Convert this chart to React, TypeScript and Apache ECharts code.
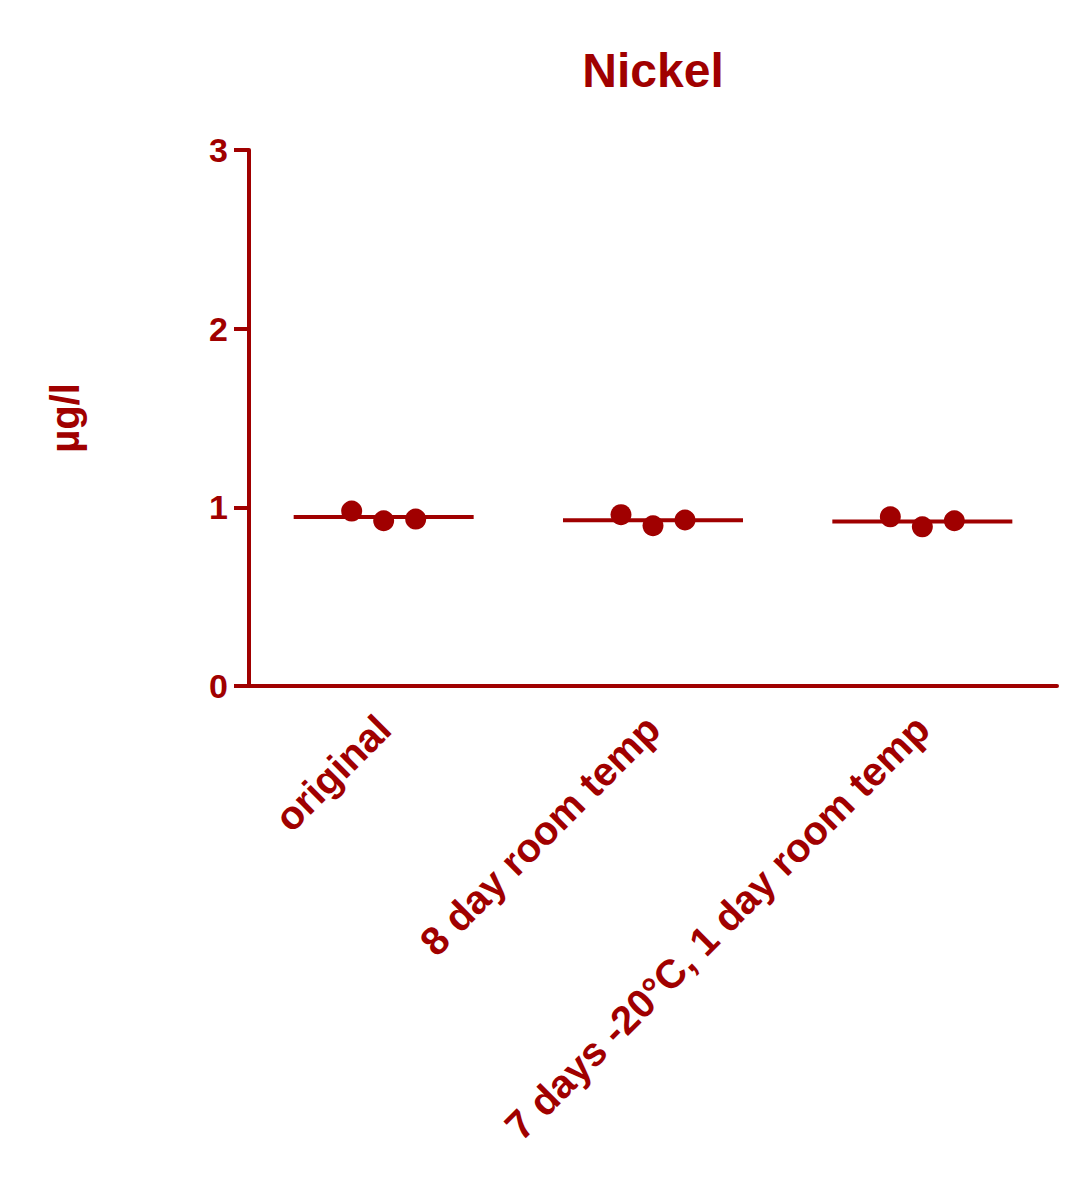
import React, { useEffect, useRef } from "react";
import * as echarts from "echarts";

const categories = ["original", "8 day room temp", "7 days -20°C, 1 day room temp"];
const originalValues = [0.979, 0.925, 0.934];
const eightDayValues = [0.959, 0.897, 0.929];
const sevenDayValues = [0.947, 0.891, 0.925];
const groups = [originalValues, eightDayValues, sevenDayValues];
const yTicks = [0, 1, 2, 3];
const titleText = "Nickel";
const yAxisName = "µg/l";

const COLOR = "#A00000";
const FONT = "Liberation Sans, Arial, sans-serif";
const jitter = [-32, 0, 32];

export default function App() {
  const ref = useRef<HTMLDivElement>(null);
  useEffect(() => {
    document.body.style.margin = "0";
    if (!ref.current) return;
    const chart = echarts.init(ref.current, undefined, { renderer: "svg" });
    const pointData: any[] = [];
    groups.forEach((vals, i) => {
      vals.forEach((v, j) => {
        pointData.push({ value: [i, v], symbolOffset: [jitter[j], 0] });
      });
    });
    const meanData = groups.map((vals, i) => [i, vals.reduce((a, b) => a + b, 0) / vals.length]);
    chart.setOption({
      animation: false,
      backgroundColor: "#ffffff",
      graphic: [
        {
          type: "text",
          x: 653,
          y: 70,
          style: {
            text: titleText,
            fill: COLOR,
            font: `bold 48px ${FONT}`,
            textAlign: "center",
            textVerticalAlign: "middle",
          },
        },
      ],
      grid: { left: 249, right: 25, top: 150, bottom: 514, containLabel: false },
      xAxis: {
        type: "category",
        data: categories,
        boundaryGap: true,
        axisLine: { lineStyle: { color: COLOR, width: 4 } },
        axisTick: { alignWithLabel: true, length: 14, lineStyle: { color: COLOR, width: 4 } },
        axisLabel: {
          rotate: 45,
          margin: 36,
          interval: 0,
          color: COLOR,
          fontFamily: FONT,
          fontWeight: "bold",
          fontSize: 40,
        },
        splitLine: { show: false },
      },
      yAxis: {
        type: "value",
        min: yTicks[0],
        max: yTicks[yTicks.length - 1],
        interval: 1,
        name: yAxisName,
        nameLocation: "middle",
        nameRotate: 90,
        nameGap: 164,
        nameTextStyle: { color: COLOR, fontFamily: FONT, fontWeight: "bold", fontSize: 40 },
        axisLine: { show: true, lineStyle: { color: COLOR, width: 4 } },
        axisTick: { show: true, length: 15, lineStyle: { color: COLOR, width: 4 } },
        axisLabel: { margin: 21, color: COLOR, fontFamily: FONT, fontWeight: "bold", fontSize: 34 },
        splitLine: { show: false },
      },
      series: [
        {
          type: "scatter",
          data: meanData,
          symbol: "rect",
          symbolSize: [180, 4],
          itemStyle: { color: COLOR, opacity: 1 },
          z: 2,
        },
        {
          type: "scatter",
          data: pointData,
          symbol: "circle",
          symbolSize: 21,
          itemStyle: { color: COLOR, opacity: 1 },
          z: 3,
        },
      ],
    });
    return () => chart.dispose();
  }, []);
  return <div ref={ref} style={{ width: 1082, height: 1200 }} />;
}
